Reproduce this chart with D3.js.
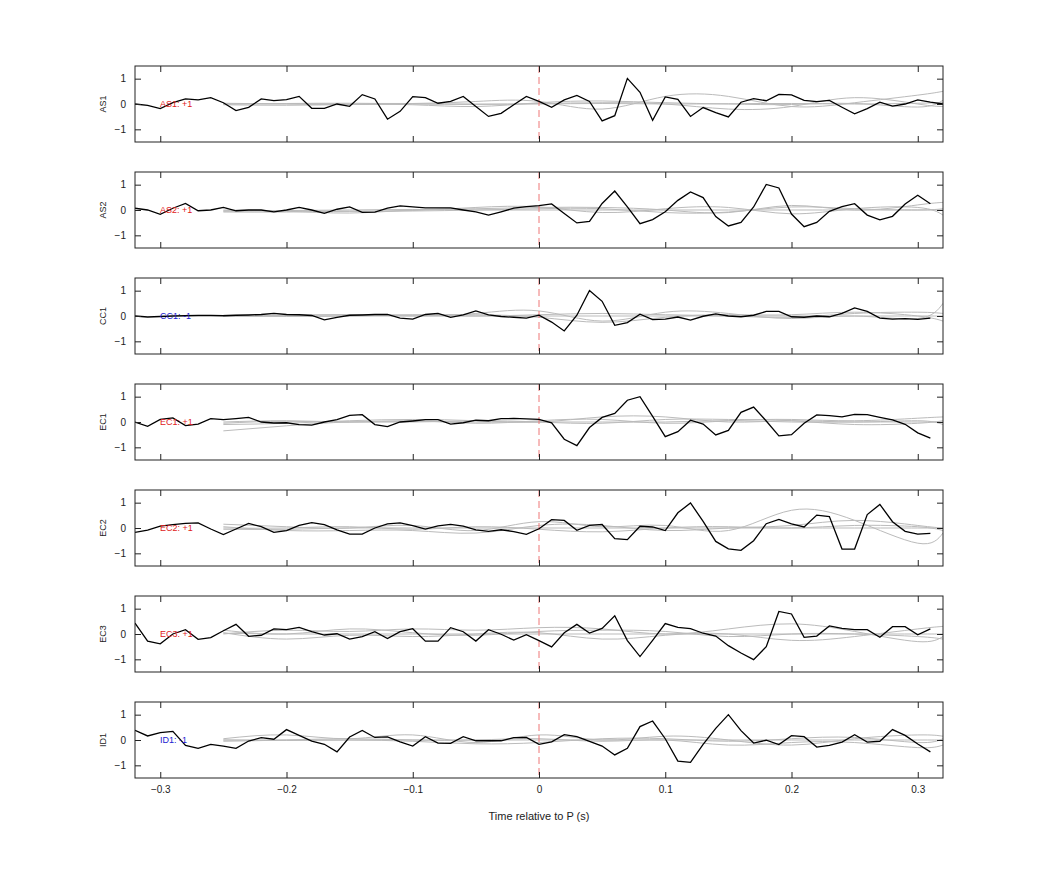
<!DOCTYPE html>
<html><head><meta charset="utf-8">
<script src="https://cdn.jsdelivr.net/npm/d3@7"></script>
<style>body{margin:0;background:#fff}</style></head>
<body><svg id="c" width="1042" height="875"></svg>
<script>
const channels = ["AS1","AS2","CC1","EC1","EC2","EC3","ID1"];
const signs = ["+1","+1","-1","+1","+1","+1","-1"];
const xTicks = [-0.3,-0.2,-0.1,0,0.1,0.2,0.3];
const yTicks = [-1,0,1];
const blackStart = -0.32, blackStep = 0.01;
const AS1 = [0,-0.05,-0.18,0.05,0.2,0.16,0.25,0.05,-0.26,-0.13,0.2,0.13,0.17,0.3,-0.17,-0.17,0,-0.09,0.37,0.2,-0.6,-0.29,0.29,0.25,0.03,0.1,0.3,-0.1,-0.49,-0.37,-0.03,0.3,0.1,-0.13,0.16,0.34,0.1,-0.67,-0.46,1.01,0.46,-0.64,0.28,0.18,-0.49,-0.14,-0.34,-0.51,0.07,0.21,0.13,0.38,0.36,0.14,0.09,0.14,-0.13,-0.39,-0.18,0.07,-0.08,0,0.16,0.07,0];
const AS2 = [0.07,0.0,-0.17,0.07,0.26,-0.03,0,0.1,-0.03,0,0,-0.07,0,0.1,0,-0.13,0.03,0.12,-0.09,-0.08,0.07,0.16,0.12,0.08,0.08,0.08,0,-0.07,-0.2,-0.07,0.07,0.13,0.17,0.24,-0.14,-0.51,-0.45,0.26,0.75,0.12,-0.54,-0.38,-0.07,0.38,0.71,0.49,-0.26,-0.63,-0.49,0.12,1.01,0.87,-0.16,-0.66,-0.49,-0.05,0.13,0.25,-0.2,-0.39,-0.25,0.24,0.58,0.25];
const CC1 = [0,-0.04,-0.02,0,0.01,0.02,0.02,0.01,0.03,0.04,0.06,0.1,0.06,0.05,0.02,-0.15,-0.05,0.03,0.04,0.06,0.06,-0.08,-0.12,0.06,0.1,-0.05,0.04,0.2,0.04,-0.02,-0.05,-0.08,0.03,-0.24,-0.59,0.03,1.01,0.58,-0.37,-0.26,0.07,-0.14,-0.12,-0.04,-0.16,-0.01,0.08,0,-0.03,0.03,0.18,0.18,-0.03,-0.05,0,-0.03,0.1,0.32,0.18,-0.08,-0.12,-0.1,-0.13,-0.08];
const EC1 = [0,-0.17,0.1,0.16,-0.14,-0.08,0.13,0.09,0.13,0.18,0,-0.04,-0.03,-0.1,-0.12,0,0.09,0.26,0.29,-0.1,-0.18,0,0.04,0.09,0.09,-0.08,-0.03,0.07,0.05,0.13,0.14,0.12,0.1,-0.03,-0.68,-0.93,-0.22,0.18,0.34,0.86,1.0,0.22,-0.58,-0.38,0.07,-0.08,-0.51,-0.33,0.38,0.59,0.04,-0.55,-0.5,-0.05,0.28,0.25,0.2,0.3,0.29,0.18,0.08,-0.09,-0.43,-0.64];
const EC2 = [-0.17,-0.08,0.07,0.13,0.18,0.2,-0.04,-0.26,-0.04,0.18,0.05,-0.17,-0.1,0.1,0.21,0.13,-0.07,-0.24,-0.24,0,0.16,0.2,0.09,-0.04,0.08,0.14,0.07,-0.07,-0.13,-0.07,-0.14,-0.25,-0.03,0.33,0.3,-0.09,0.1,0.14,-0.42,-0.46,0.07,0.04,-0.1,0.6,0.99,0.26,-0.53,-0.82,-0.88,-0.5,0.17,0.34,0.16,0.04,0.51,0.45,-0.83,-0.83,0.53,0.93,0.25,-0.13,-0.24,-0.21];
const EC3 = [0.43,-0.28,-0.39,0,0.17,-0.21,-0.14,0.13,0.38,-0.09,-0.05,0.2,0.17,0.26,0.09,-0.04,0.01,-0.2,-0.1,0.09,-0.18,0.09,0.21,-0.28,-0.28,0.25,0.09,-0.28,0.17,-0.01,-0.24,-0.03,-0.26,-0.51,0.05,0.38,0.04,0.22,0.72,-0.26,-0.89,-0.25,0.41,0.26,0.21,0.03,-0.08,-0.46,-0.75,-1.01,-0.5,0.89,0.79,-0.13,-0.08,0.32,0.22,0.17,0.17,-0.13,0.29,0.29,-0.03,0.2];
const ID1 = [0.38,0.16,0.29,0.34,-0.21,-0.33,-0.17,-0.24,-0.33,-0.04,0.09,0.03,0.41,0.18,-0.04,-0.17,-0.47,0.12,0.38,0.1,0.12,-0.07,-0.24,0.13,-0.12,-0.13,0.13,-0.03,-0.03,-0.03,0.09,0.1,-0.17,-0.07,0.21,0.13,-0.05,-0.24,-0.59,-0.33,0.53,0.75,0.05,-0.83,-0.88,-0.17,0.46,1.0,0.37,-0.12,-0.01,-0.18,0.17,0.13,-0.28,-0.21,-0.08,0.21,-0.08,-0.05,0.41,0.18,-0.16,-0.47];
const blackSeries = [AS1,AS2,CC1,EC1,EC2,EC3,ID1];
const grayX = [-0.25,-0.2,-0.15,-0.1,-0.05,0,0.05,0.1,0.15,0.2,0.25,0.3,0.32];
const grayAS1 = [[0,0.02,0.03,0.02,0.1,0.1,-0.2,0.3,0.3,-0.1,0.05,0.35,0.5],[0.03,0.0,-0.02,0.0,-0.02,0.02,0.05,0.0,-0.2,-0.1,0.25,0.0,-0.1],[-0.03,-0.05,-0.02,-0.03,-0.1,0.05,0.12,0.05,0.0,-0.02,0.02,-0.12,0.15],[0,0.01,0,0.01,0,0,0.02,0,0.01,0.02,0,0.03,0.05]];
const grayAS2 = [[-0.05,-0.05,-0.12,0,0.05,0.1,0.1,0,-0.1,0.18,0,0.2,0.3],[0,-0.03,-0.05,-0.02,0.1,0.12,-0.1,0.05,0.1,-0.15,0.05,0.1,-0.2],[-0.08,-0.08,-0.05,-0.04,0,0.05,0.05,-0.1,-0.08,0.12,0.05,0,0.05],[-0.03,-0.02,0,0.02,0,0,0,0,0,0,0,0,0]];
const grayCC1 = [[0,0.02,0.05,0.0,0.1,0.2,-0.2,0.15,0.1,-0.1,0.0,-0.1,0.5],[0,-0.02,0,0.05,0.05,-0.05,-0.25,-0.05,0.05,0.05,0.15,0,-0.2],[0.03,0.03,0.05,0.03,0,0.05,0.1,0.05,0,-0.05,0.1,0.15,0.1],[0,0,0,0,0,0,0,0,0,0,0,0,0]];
const grayEC1 = [[-0.35,-0.15,0,0,0.05,0,-0.05,0.1,0.1,0.05,-0.1,-0.05,0.05],[-0.1,-0.05,0.05,0.1,0.05,0,0.2,0.2,0,0.05,0,0.05,-0.1],[-0.05,0.03,0.0,0.05,-0.05,0.05,0.1,-0.05,0.05,0.1,0.05,0.15,0.2],[0,0.05,0,0.02,0,0,0,0,0.05,0,0,0,0]];
const grayEC2 = [[0.15,0.05,0,0.1,-0.1,0.25,0.05,0.1,-0.1,0.7,0.3,-0.6,-0.2],[0.05,-0.1,-0.1,-0.1,-0.2,0.1,0.1,-0.1,0,0.1,0.3,0.1,0],[0,0,0.05,-0.05,0.05,-0.05,-0.15,0,0.05,0,0.1,0.05,-0.1],[-0.05,-0.05,0,0,0,0,0,0,0,0,0,0,0]];
const grayEC3 = [[0,0.15,0.1,0.2,0.15,0.25,0.2,0,0.2,0.4,0.1,-0.3,-0.1],[0.05,-0.2,-0.05,-0.1,0,0.05,-0.2,-0.05,0,-0.25,-0.1,0.2,0.3],[0.15,0,0.2,0.05,-0.05,0.1,0.15,0.1,-0.1,0,0,-0.1,-0.2],[0.03,0,0,0,0,0,0,0,0,0,0,0,0]];
const grayID1 = [[0.05,0.2,0.05,0.2,-0.1,0.2,0,0.15,0,-0.2,0.05,0.2,0.15],[0,0,0,-0.05,-0.15,-0.1,0.05,0.05,-0.05,0.05,0.1,-0.1,0.05],[-0.05,0,0.05,0,0,0.05,-0.05,0,-0.2,-0.1,-0.1,-0.3,-0.2],[0,-0.02,0,0,0,0,0,0,0,0,0,0,0]];
const graySeries = [grayAS1,grayAS2,grayCC1,grayEC1,grayEC2,grayEC3,grayID1];

const svg = d3.select("#c");
const L=135,R=943,T0=66,H=76,GAP=106;
const x = d3.scaleLinear().domain([-0.32,0.32]).range([L,R]);
const font="Liberation Sans, Arial, sans-serif";
channels.forEach((ch,i)=>{
  const top=T0+i*GAP;
  const y=d3.scaleLinear().domain([-1.5,1.5]).range([top+H,top]);
  const g=svg.append("g");
  const clipId="clip"+i;
  svg.append("clipPath").attr("id",clipId).append("rect").attr("x",L).attr("y",top).attr("width",R-L).attr("height",H);
  const pg=g.append("g").attr("clip-path",`url(#${clipId})`);
  const gl=d3.line().x((d,j)=>x(grayX[j])).y(d=>y(d)).curve(d3.curveNatural);
  graySeries[i].forEach(s=>pg.append("path").attr("d",gl(s)).attr("fill","none").attr("stroke","#bbb").attr("stroke-width",1));
  pg.append("line").attr("x1",x(0)).attr("x2",x(0)).attr("y1",top).attr("y2",top+H).attr("stroke","#e77").attr("stroke-dasharray","7,4").attr("stroke-width",1);
  const bl=d3.line().x((d,j)=>x(blackStart+j*blackStep)).y(d=>y(d));
  pg.append("path").attr("d",bl(blackSeries[i])).attr("fill","none").attr("stroke","#000").attr("stroke-width",1.3);
  // axes
  const ax=(gen,tr)=>{const a=g.append("g").attr("transform",tr).call(gen);a.select(".domain").remove();a.selectAll("line").attr("stroke","#222");a.selectAll("text").attr("font-family",font).attr("font-size",10).attr("fill","#222");return a;};
  ax(d3.axisBottom(x).tickValues(xTicks).tickSize(-6).tickFormat(i===6?d3.format("~g"):""),`translate(0,${top+H})`).selectAll("text").attr("dy","1.2em");
  ax(d3.axisTop(x).tickValues(xTicks).tickSize(-6).tickFormat(""),`translate(0,${top})`);
  ax(d3.axisLeft(y).tickValues(yTicks).tickSize(-6).tickFormat(d3.format("d")),`translate(${L},0)`).selectAll("text").attr("dx","-0.6em");
  ax(d3.axisRight(y).tickValues(yTicks).tickSize(-6).tickFormat(""),`translate(${R},0)`);
  g.append("rect").attr("x",L).attr("y",top).attr("width",R-L).attr("height",H).attr("fill","none").attr("stroke","#222").attr("stroke-width",1);
  g.append("text").attr("transform",`translate(106,${y(0)}) rotate(-90)`).attr("text-anchor","middle").attr("font-family",font).attr("font-size",9).attr("fill","#222").text(ch);
  g.append("text").attr("x",160).attr("y",y(0)+3).attr("font-family",font).attr("font-size",9).attr("fill",signs[i]==="+1"?"#e02020":"#2020d0").text(`${ch}: ${signs[i]}`);
});
svg.append("text").attr("x",x(0)).attr("y",820).attr("text-anchor","middle").attr("font-family",font).attr("font-size",11).attr("fill","#222").text("Time relative to P (s)");
</script></body></html>
